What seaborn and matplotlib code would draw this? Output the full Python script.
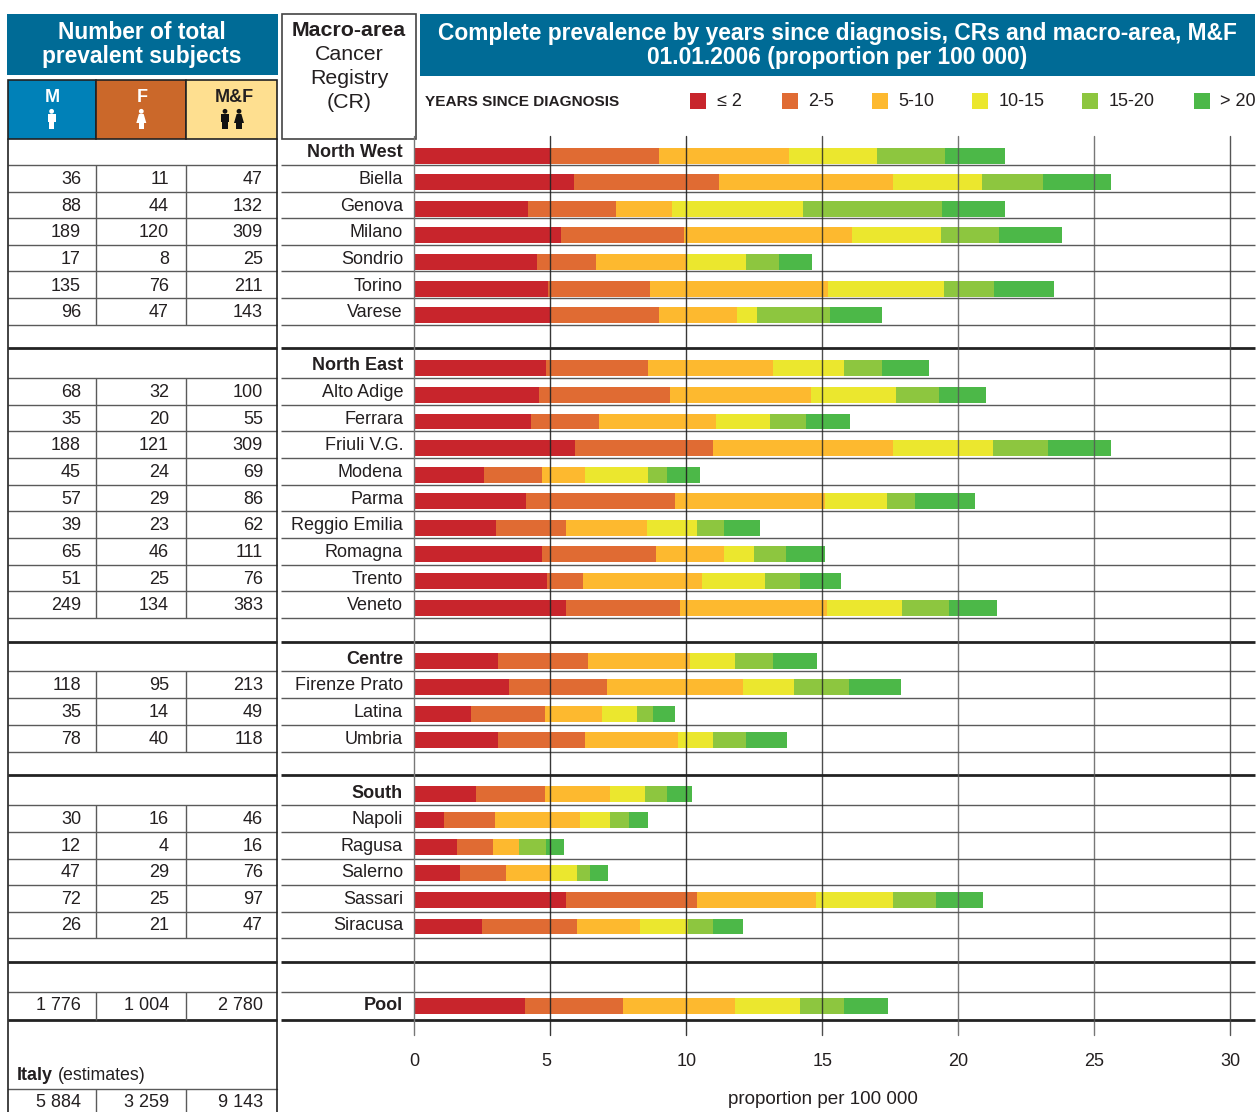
import matplotlib
matplotlib.use("Agg")
import matplotlib.pyplot as plt
from matplotlib.patches import Rectangle, Circle, Polygon
from matplotlib.transforms import ScaledTranslation
import numpy as np
import pandas as pd
import seaborn as sns

# ---------- data ----------
registries = ["North West", "Biella", "Genova", "Milano", "Sondrio", "Torino", "Varese",
              "North East", "Alto Adige", "Ferrara", "Friuli V.G.", "Modena", "Parma",
              "Reggio Emilia", "Romagna", "Trento", "Veneto",
              "Centre", "Firenze Prato", "Latina", "Umbria",
              "South", "Napoli", "Ragusa", "Salerno", "Sassari", "Siracusa", "Pool"]
bold_rows = ["North West", "North East", "Centre", "South", "Pool"]
row_order = ["North West", "Biella", "Genova", "Milano", "Sondrio", "Torino", "Varese", "_a",
             "North East", "Alto Adige", "Ferrara", "Friuli V.G.", "Modena", "Parma",
             "Reggio Emilia", "Romagna", "Trento", "Veneto", "_b",
             "Centre", "Firenze Prato", "Latina", "Umbria", "_c",
             "South", "Napoli", "Ragusa", "Salerno", "Sassari", "Siracusa", "_d", "_e", "Pool"]
bands = ["≤ 2", "2-5", "5-10", "10-15", "15-20", "> 20"]
y_le2 = [5.00, 5.86, 4.17, 5.39, 4.50, 4.91, 5.02, 4.83, 4.58, 4.28, 5.90, 2.56, 4.10, 3.00,
         4.69, 4.87, 5.57, 3.07, 3.47, 2.08, 3.07, 2.26, 1.08, 1.56, 1.67, 5.57, 2.48, 4.06]
y_2_5 = [3.99, 5.33, 3.24, 4.52, 2.17, 3.75, 3.97, 3.75, 4.82, 2.50, 5.07, 2.13, 5.48, 2.57,
         4.19, 1.32, 4.19, 3.31, 3.60, 2.72, 3.20, 2.54, 1.88, 1.32, 1.69, 4.82, 3.49, 3.60]
y_5_10 = [4.78, 6.40, 2.06, 6.18, 3.35, 6.54, 2.87, 4.60, 5.18, 4.30, 6.62, 1.58, 5.51, 2.98,
          2.50, 4.38, 5.40, 3.75, 5.00, 2.10, 3.42, 2.39, 3.13, 0.99, 1.62, 4.38, 2.32, 4.12]
y_10_15 = [3.24, 3.27, 4.82, 3.27, 2.17, 4.26, 0.74, 2.61, 3.13, 1.99, 3.68, 2.32, 2.28, 1.84,
           1.10, 2.32, 2.79, 1.65, 1.91, 1.29, 1.29, 1.29, 1.10, 0.00, 0.99, 2.83, 1.76, 2.39]
y_15_20 = [2.50, 2.24, 5.11, 2.13, 1.21, 1.84, 2.68, 1.40, 1.58, 1.32, 2.02, 0.70, 1.03, 0.99,
           1.18, 1.29, 1.73, 1.40, 1.99, 0.59, 1.21, 0.81, 0.70, 0.99, 0.51, 1.58, 0.92, 1.62]
y_gt20 = [2.21, 2.50, 2.32, 2.32, 1.21, 2.21, 1.91, 1.73, 1.73, 1.62, 2.32, 1.21, 2.21, 1.32,
          1.43, 1.51, 1.73, 1.62, 1.91, 0.81, 1.51, 0.92, 0.70, 0.66, 0.63, 1.73, 1.10, 1.62]
band_values = [y_le2, y_2_5, y_5_10, y_10_15, y_15_20, y_gt20]
band_colors = ["#c8252c", "#e06b33", "#fdb92f", "#ebe72e", "#8dc63f", "#4cb848"]

count_m = {"Biella": "36", "Genova": "88", "Milano": "189", "Sondrio": "17", "Torino": "135", "Varese": "96",
           "Alto Adige": "68", "Ferrara": "35", "Friuli V.G.": "188", "Modena": "45", "Parma": "57",
           "Reggio Emilia": "39", "Romagna": "65", "Trento": "51", "Veneto": "249",
           "Firenze Prato": "118", "Latina": "35", "Umbria": "78",
           "Napoli": "30", "Ragusa": "12", "Salerno": "47", "Sassari": "72", "Siracusa": "26", "Pool": "1 776"}
count_f = {"Biella": "11", "Genova": "44", "Milano": "120", "Sondrio": "8", "Torino": "76", "Varese": "47",
           "Alto Adige": "32", "Ferrara": "20", "Friuli V.G.": "121", "Modena": "24", "Parma": "29",
           "Reggio Emilia": "23", "Romagna": "46", "Trento": "25", "Veneto": "134",
           "Firenze Prato": "95", "Latina": "14", "Umbria": "40",
           "Napoli": "16", "Ragusa": "4", "Salerno": "29", "Sassari": "25", "Siracusa": "21", "Pool": "1 004"}
count_mf = {"Biella": "47", "Genova": "132", "Milano": "309", "Sondrio": "25", "Torino": "211", "Varese": "143",
            "Alto Adige": "100", "Ferrara": "55", "Friuli V.G.": "309", "Modena": "69", "Parma": "86",
            "Reggio Emilia": "62", "Romagna": "111", "Trento": "76", "Veneto": "383",
            "Firenze Prato": "213", "Latina": "49", "Umbria": "118",
            "Napoli": "46", "Ragusa": "16", "Salerno": "76", "Sassari": "97", "Siracusa": "47", "Pool": "2 780"}
italy = ["5 884", "3 259", "9 143"]

# ---------- layout constants (pixels) ----------
W, H = 1259, 1112
PX_PER_UNIT = 27.2
X0, ROW0, ROW_H = 414.2, 155.7, 26.58
AX_L, AX_R, AX_T, AX_B = 409.0, 1255.0, 136.0, 1035.0
label_y = [151, 178, 205, 231, 258, 285, 311, 364, 391, 418, 444, 471, 498, 524, 551, 578, 604,
           658, 684, 711, 738, 792, 818, 845, 871, 898, 924, 1004]
thin_rows = [165, 192, 218, 245, 271, 298, 325, 378, 405, 431, 458, 485, 511, 538, 565, 591, 618,
             671, 698, 725, 752, 805, 832, 859, 885, 912, 938, 992]
thick_rows = [348, 642, 775, 962, 1020]
col_spans = [(165, 325), (378, 618), (671, 752), (805, 938), (992, 1020), (1089, 1112)]

sns.set_theme(style="white")
plt.rcParams["font.family"] = ["Liberation Sans", "DejaVu Sans"]
TXT = "#231f20"
HBLUE = "#006b96"
row_label_y = dict(zip(registries, label_y))

fig = plt.figure(figsize=(W / 100, H / 100), dpi=100, facecolor="white")
bg = fig.add_axes([0, 0, 1, 1])
bg.set_xlim(0, W)
bg.set_ylim(H, 0)
bg.axis("off")

# header blocks
bg.add_patch(Rectangle((7, 14), 271, 61, fc=HBLUE, ec="none"))
bg.add_patch(Rectangle((420, 14), 835, 62, fc=HBLUE, ec="none"))
bg.text(142, 32.5, "Number of total", color="white", weight="bold", fontsize=16.4, ha="center", va="center")
bg.text(142, 56.5, "prevalent subjects", color="white", weight="bold", fontsize=16.4, ha="center", va="center")
bg.text(837, 33.5, "Complete prevalence by years since diagnosis, CRs and macro-area, M&F",
        color="white", weight="bold", fontsize=16.35, ha="center", va="center")
bg.text(837, 57.5, "01.01.2006 (proportion per 100 000)", color="white", weight="bold", fontsize=16.35,
        ha="center", va="center")
bg.add_patch(Rectangle((282, 14), 134, 125, fc="white", ec="#444444", lw=1.2))
for yy, s, w in [(31, "Macro-area", "bold"), (55, "Cancer", "normal"), (79, "Registry", "normal"), (103, "(CR)", "normal")]:
    bg.text(349, yy, s, color=TXT, weight=w, fontsize=15.4, ha="center", va="center")

# column heads
for x, w, c in [(8, 88.5, "#0081b8"), (96.5, 90, "#cb682a"), (186.5, 90.5, "#fedf90")]:
    bg.add_patch(Rectangle((x, 80), w, 59, fc=c, ec="#222222", lw=1.2))
bg.text(52, 97, "M", color="white", weight="bold", fontsize=13, ha="center", va="center")
bg.text(142, 97, "F", color="white", weight="bold", fontsize=13, ha="center", va="center")
bg.text(234, 97, "M&F", color=TXT, weight="bold", fontsize=13, ha="center", va="center")


def person(x, color, female=False):
    bg.add_patch(Circle((x, 111.3), 2.4, fc=color, ec="none"))
    if female:
        bg.add_patch(Polygon([(x - 2.4, 114), (x + 2.4, 114), (x + 5, 123), (x - 5, 123)], fc=color, ec="none"))
        bg.add_patch(Rectangle((x - 2.6, 123), 5.2, 6, fc=color, ec="none"))
    else:
        bg.add_patch(Rectangle((x - 4, 114), 8, 7.5, fc=color, ec="none"))
        bg.add_patch(Rectangle((x - 2.7, 121), 5.4, 8, fc=color, ec="none"))


person(51.6, "white")
person(141.3, "white", True)
person(225, "#111111")
person(239, "#111111", True)

# legend
bg.text(425, 102, "YEARS SINCE DIAGNOSIS", color=TXT, weight="bold", fontsize=11.1, ha="left", va="center")
swatch_x = [690, 782, 872, 972, 1082, 1194]
label_x = [717, 808, 898, 999, 1109, 1220]
for sx, lx, lab, col in zip(swatch_x, label_x, bands, band_colors):
    bg.add_patch(Rectangle((sx, 93), 16, 16, fc=col, ec="none"))
    bg.text(lx, 102, lab, color=TXT, fontsize=13, ha="left", va="center")

# table and row rules
for yy in thin_rows:
    bg.plot([8, 277], [yy, yy], color="#5a5a5a", lw=1.0, solid_capstyle="butt")
    bg.plot([281, 1255], [yy, yy], color="#5a5a5a", lw=1.0, solid_capstyle="butt")
for yy in thick_rows:
    bg.plot([8, 277], [yy, yy], color="#222222", lw=2.0, solid_capstyle="butt")
    bg.plot([281, 1255], [yy, yy], color="#222222", lw=2.0, solid_capstyle="butt")
bg.plot([8, 277], [1089, 1089], color="#5a5a5a", lw=1.0)
bg.plot([8, 8], [139, H], color="#222222", lw=1.2)
bg.plot([277, 277], [139, H], color="#222222", lw=1.2)
for a, b in col_spans:
    for xx in (96.5, 186.5):
        bg.plot([xx, xx], [a, b], color="#5a5a5a", lw=1.0, solid_capstyle="butt")

for name in registries:
    if name in count_m:
        yy = row_label_y[name] + 1.5
        bg.text(81, yy, count_m[name], color=TXT, fontsize=13, ha="right", va="center")
        bg.text(169, yy, count_f[name], color=TXT, fontsize=13, ha="right", va="center")
        bg.text(263, yy, count_mf[name], color=TXT, fontsize=13, ha="right", va="center")
bg.text(17, 1076, "Italy", color=TXT, weight="bold", fontsize=13, ha="left", va="center")
bg.text(58, 1076, "(estimates)", color=TXT, fontsize=12.8, ha="left", va="center")
for xx, s in zip((81, 169, 263), italy):
    bg.text(xx, 1102.5, s, color=TXT, fontsize=13, ha="right", va="center")

# ---------- stacked bars through seaborn ----------
ax = fig.add_axes([AX_L / W, 1 - AX_B / H, (AX_R - AX_L) / W, (AX_B - AX_T) / H])
ax.patch.set_alpha(0)
df = pd.DataFrame(dict(zip(bands, band_values)), index=registries)
cum = df.cumsum(axis=1)
cum["registry"] = registries
for band, col in list(zip(bands, band_colors))[::-1]:
    sns.barplot(data=cum, x=band, y="registry", order=row_order, orient="h", color=col,
                saturation=1, width=0.6, errorbar=None, linewidth=0, ax=ax)

ax.set_xlim((X0 - AX_L) / -PX_PER_UNIT, (AX_R - X0) / PX_PER_UNIT)
ax.set_ylim((AX_B - ROW0) / ROW_H, (AX_T - ROW0) / ROW_H)
for s in ax.spines.values():
    s.set_visible(False)

ax.set_xticks(range(0, 31, 5))
ax.set_axisbelow(False)
ax.grid(False)
for v, c, a in zip(range(0, 31, 5), ["#777777", "#222222", "#222222", "#222222", "#555555", "#555555", "#444444"],
                   [1, .9, .9, .8, .8, .8, .9]):
    ax.axvline(v, color=c, alpha=a, lw=1.0, zorder=10, clip_on=False)
ax.tick_params(axis="x", length=0, pad=13, labelsize=13, labelcolor=TXT)
left5 = ScaledTranslation(-3.5 / 100, 0, fig.dpi_scale_trans)
xlabs = ax.get_xticklabels()
xlabs[1].set_transform(xlabs[1].get_transform() + left5)
ax.set_yticks(range(len(row_order)))
ax.set_yticklabels(["" if n.startswith("_") else n for n in row_order])
ax.tick_params(axis="y", length=0, pad=4.3, labelsize=13, labelcolor=TXT)
for k, (lab, name) in enumerate(zip(ax.get_yticklabels(), row_order)):
    if name in row_label_y:
        shift = ROW0 + ROW_H * k + 0.45 - row_label_y[name]
        lab.set_transform(lab.get_transform() + ScaledTranslation(0, shift / 100, fig.dpi_scale_trans))
    if name in bold_rows:
        lab.set_fontweight("bold")
ax.set_ylabel("")
ax.set_xlabel("proportion per 100 000", fontsize=13.6, color=TXT)
ax.xaxis.set_label_coords((823 - AX_L) / (AX_R - AX_L), -(1091.5 - AX_B) / (AX_B - AX_T))

fig.savefig("out.png", dpi=100, facecolor="white")
